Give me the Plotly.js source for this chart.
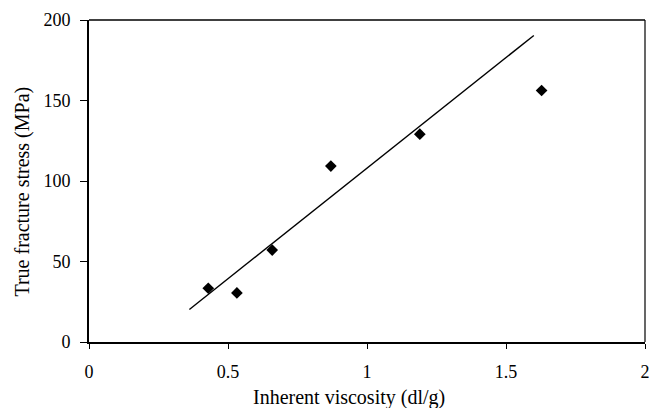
<!DOCTYPE html>
<html>
<head>
<meta charset="utf-8">
<script src="https://cdn.plot.ly/plotly-3.0.1.min.js"></script>
<style>html,body{margin:0;padding:0;background:#fff;}#chart{width:651px;height:408px;}</style>
</head>
<body>
<div id="chart"></div>
<script>
// Data
const viscosity = [0.429, 0.532, 0.659, 0.870, 1.190, 1.628];
const stress = [33.4, 30.5, 57.1, 109.3, 129.1, 156.2];
const fitX = [0.361, 1.600];
const fitY = [20.2, 190.4];
const xTicks = [0, 0.5, 1, 1.5, 2];
const xTickText = ['0', '0.5', '1', '1.5', '2'];
const yTicks = [0, 50, 100, 150, 200];
const yTickText = ['0', '50', '100', '150', '200'];
const xTitle = 'Inherent viscosity (dl/g)';
const yTitle = 'True fracture stress (MPa)';

const fam = 'Liberation Serif, Times New Roman, serif';

const traces = [
  {x: viscosity, y: stress, type: 'scatter', mode: 'markers',
   marker: {symbol: 'diamond', size: 9, color: '#000'}, showlegend: false, hoverinfo: 'skip'},
  {x: fitX, y: fitY, type: 'scatter', mode: 'lines',
   line: {color: '#000', width: 1.4}, showlegend: false, hoverinfo: 'skip'}
];

const layout = {
  width: 651, height: 408,
  margin: {l: 89, r: 6, t: 20, b: 66, pad: 0},
  paper_bgcolor: '#fff', plot_bgcolor: '#fff',
  showlegend: false,
  font: {family: fam, color: '#000'},
  xaxis: {
    range: [0, 2], tickvals: xTicks, ticktext: xTickText,
    showgrid: false, zeroline: false,
    showline: true, linecolor: '#000', linewidth: 2,
    ticks: 'outside', ticklen: 5, tickwidth: 1, tickcolor: '#000',
    ticklabelstandoff: 7,
    tickfont: {family: fam, size: 18, color: '#000'}
  },
  yaxis: {
    range: [0, 200], tickvals: yTicks, ticktext: yTickText,
    showgrid: false, zeroline: false,
    showline: true, linecolor: '#000', linewidth: 2,
    ticks: 'outside', ticklen: 7, tickwidth: 1, tickcolor: '#000',
    ticklabelstandoff: 6,
    tickfont: {family: fam, size: 18, color: '#000'}
  },
  annotations: [
    {text: xTitle, xref: 'paper', yref: 'paper', x: 0.467, y: -0.171, xanchor: 'center', yanchor: 'middle',
     showarrow: false, font: {family: fam, size: 20, color: '#000'}},
    {text: yTitle, xref: 'paper', yref: 'paper', x: -0.12, y: 0.468, xanchor: 'center', yanchor: 'middle',
     textangle: -90, showarrow: false, font: {family: fam, size: 20, color: '#000'}}
  ],
  shapes: [
    {type: 'line', xref: 'paper', yref: 'paper', x0: 0, x1: 1, y0: 1, y1: 1, line: {color: '#000', width: 1.5}},
    {type: 'line', xref: 'paper', yref: 'paper', x0: 1, x1: 1, y0: 0, y1: 1, line: {color: '#000', width: 1.2}}
  ]
};

Plotly.newPlot('chart', traces, layout, {staticPlot: true, displayModeBar: false});
</script>
</body>
</html>
